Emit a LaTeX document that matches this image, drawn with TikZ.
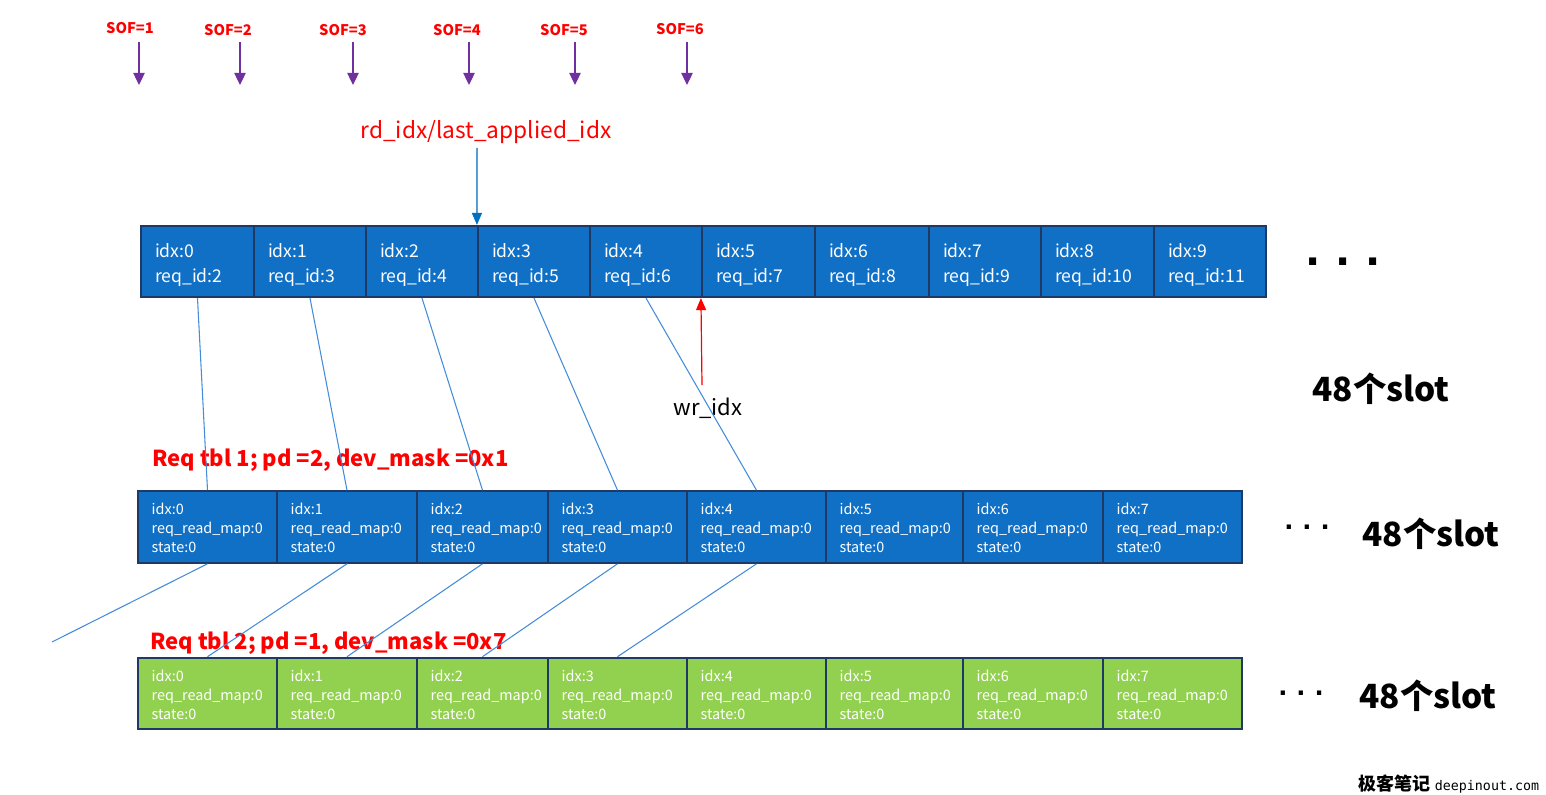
\documentclass[tikz,border=0pt]{standalone}
\usepackage{fontspec}
\setmainfont{Noto Sans CJK SC}
\newfontfamily\dejafont{DejaVu Sans}
\newfontfamily\monofont{DejaVu Sans Mono}
\usetikzlibrary{arrows.meta}
\definecolor{cblue}{RGB}{16,112,198}
\definecolor{cnavy}{RGB}{31,56,100}
\definecolor{cgreen}{RGB}{146,208,80}
\definecolor{cpurple}{RGB}{112,48,160}
\definecolor{cred}{RGB}{255,0,0}
\definecolor{carrow}{RGB}{0,112,192}
\definecolor{clink}{RGB}{68,140,218}
\begin{document}
\begin{tikzpicture}[x=0.75pt,y=-0.75pt,
  topcell/.style={draw=cnavy, line width=1.6pt, fill=cblue, minimum height=53.25pt, inner sep=0pt},
  toptext/.style={text=white, inner sep=0pt, anchor=west, align=left, font=\fontsize{13.2}{18.75}\selectfont},
  reqcell/.style={draw=cnavy, line width=1.6pt, fill=cblue, minimum height=53.6pt, inner sep=0pt},
  greencell/.style={reqcell, fill=cgreen},
  reqtext/.style={text=white, inner sep=0pt, anchor=west, align=left, font=\fontsize{10.8}{14.25}\selectfont},
  sof/.style={text=cred, font=\bfseries\fontsize{11}{13}\selectfont, inner sep=0pt},
  sofarrow/.style={draw=cpurple, line width=0.9pt, -{Triangle[width=8.5pt,length=9pt]}},
  ptrarrow/.style={line width=0.9pt, -{Triangle[width=7.5pt,length=9pt]}},
  link/.style={draw=clink, line width=0.8pt},
  tbltitle/.style={text=cred, font=\bfseries\fontsize{16.5}{20}\selectfont, inner sep=0pt, anchor=west},
  slot/.style={font=\bfseries\fontsize{25}{30}\selectfont, inner sep=0pt},
  dotsbig/.style={font=\dejafont\bfseries\fontsize{30}{30}\selectfont, inner sep=0pt},
  dotssmall/.style={font=\dejafont\bfseries\fontsize{18}{18}\selectfont, inner sep=0pt},
]
\useasboundingbox (0,0) rectangle (1546,795);

% SOF labels and arrows
\foreach \k/\lx/\ly/\ax in {1/130/28/139, 2/228/30/240, 3/343/30/353, 4/457/30/469, 5/564/30/575, 6/680/29/687}{
  \node[sof] (sof\k) at (\lx,\ly) {SOF=\k};
  \coordinate (sofs\k) at (\ax,42);
  \coordinate (sofe\k) at (\ax,85);
  \draw[sofarrow] (sofs\k) -- (sofe\k);
}

% rd_idx title
\node[text=cred, font=\fontsize{17}{20}\selectfont, inner sep=0pt] (rd) at (486,132) {rd\_idx/last\_applied\_idx};

% top row
\foreach \i/\xl/\xr in {0/141/254,1/254/366,2/366/478,3/478/590,4/590/702,5/702/815,6/815/929,7/929/1041,8/1041/1154,9/1154/1266}{
  \pgfmathsetmacro\mw{(\xr-\xl)*0.75}
  \pgfmathtruncatemacro\rq{\i+2}
  \node[topcell, minimum width=\mw pt] (t\i) at ({(\xl+\xr)/2},261.5) {};
  \node[toptext] (tt\i) at ([xshift=11.1pt, yshift=-3pt]t\i.west) {idx:\i\\req\_id:\rq};
}

% blue arrow rd_idx
\coordinate (rdbase) at (477,148);
\draw[ptrarrow, draw=carrow, fill=carrow] (rdbase) -- (t3.north west);

% wr_idx
\node[font=\fontsize{16.5}{18}\selectfont, inner sep=0pt] (wr) at (708,408) {wr\_idx};
\coordinate (wrbase) at (702,385);
\draw[ptrarrow, draw=cred, fill=cred] (wrbase) -- (t5.south west);

% dots and slot labels
\node[dotsbig] (dtop) at (1343,262) {.\hspace{11.1pt}.\hspace{11.1pt}.};
\node[slot] (s1) at (1381,389) {48个slot};

% Req tbl 1
\node[tbltitle] (rt1) at (152,460) {Req tbl 1; pd =2, dev\_mask =0x1};
\foreach \i/\xl/\xr in {0/138/277,1/277/417,2/417/548,3/548/687,4/687/826,5/826/963,6/963/1103,7/1103/1242}{
  \pgfmathsetmacro\mw{(\xr-\xl)*0.75}
  \node[reqcell, minimum width=\mw pt] (r\i) at ({(\xl+\xr)/2},527) {};
  \node[reqtext] (rx\i) at ([xshift=10.9pt, yshift=-0.8pt]r\i.west) {idx:\i\\req\_read\_map:0\\state:0};
}
\node[dotssmall] (dmid) at (1307,527) {.\hspace{6.7pt}.\hspace{6.7pt}.};
\node[slot] (s2) at (1431,534) {48个slot};

% Req tbl 2
\node[tbltitle] (rt2) at (150,643) {Req tbl 2; pd =1, dev\_mask =0x7};
\foreach \i/\xl/\xr in {0/138/277,1/277/417,2/417/548,3/548/687,4/687/826,5/826/963,6/963/1103,7/1103/1242}{
  \pgfmathsetmacro\mw{(\xr-\xl)*0.75}
  \node[greencell, minimum width=\mw pt] (g\i) at ({(\xl+\xr)/2},693.5) {};
  \node[reqtext] (gx\i) at ([xshift=10.9pt, yshift=-0.8pt]g\i.west) {idx:\i\\req\_read\_map:0\\state:0};
}
\node[dotssmall] (dbot) at (1301,693) {.\hspace{6.7pt}.\hspace{6.7pt}.};
\node[slot] (s3) at (1428,696) {48个slot};

% links
\foreach \i in {0,...,4}{
  \draw[link] (t\i.south) -- (r\i.north);
}
\foreach \i/\j in {1/0,2/1,3/2,4/3}{
  \draw[link] (r\i.south) -- (g\j.north);
}
\coordinate (lfree) at (52,642);
\draw[link] (r0.south) -- (lfree);

% watermark
\node[font=\bfseries\fontsize{13.5}{15}\selectfont, inner sep=0pt, anchor=base west] (wm1) at (1358,790) {极客笔记};
\node[font=\monofont\fontsize{10}{12}\selectfont, inner sep=0pt, anchor=base west] (wm2) at ([xshift=3pt]wm1.base east) {deepinout.com};
\end{tikzpicture}
\end{document}
